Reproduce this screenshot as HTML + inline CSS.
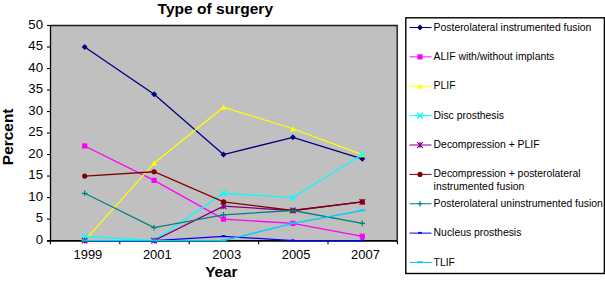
<!DOCTYPE html><html><head><meta charset="utf-8"><style>html,body{margin:0;padding:0;background:#fff;}svg{display:block;}text{font-family:"Liberation Sans",sans-serif;}</style></head><body>
<svg width="605" height="281" viewBox="0 0 605 281">
<rect width="605" height="281" fill="#fff"/>
<text transform="translate(215.3,14.1) scale(1.045,1)" font-size="14.9" font-weight="bold" text-anchor="middle" fill="#000">Type of surgery</text>
<rect x="50" y="25.5" width="347" height="215.1" fill="#C0C0C0"/>
<path d="M50 25.5H397.2V240.6" stroke="#1a1a1a" stroke-width="1.4" fill="none"/>
<path d="M50.5 25.0V242.1" stroke="#000" stroke-width="1.3" fill="none"/>
<path d="M47 240.90H50.5" stroke="#000" stroke-width="1.1"/>
<text transform="translate(43.0,244.00) scale(1.1,1)" font-size="12" text-anchor="end" fill="#000">0</text>
<path d="M47 219.09H50.5" stroke="#000" stroke-width="1.1"/>
<text transform="translate(43.0,222.49) scale(1.1,1)" font-size="12" text-anchor="end" fill="#000">5</text>
<path d="M47 197.58H50.5" stroke="#000" stroke-width="1.1"/>
<text transform="translate(43.0,200.98) scale(1.1,1)" font-size="12" text-anchor="end" fill="#000">10</text>
<path d="M47 176.07H50.5" stroke="#000" stroke-width="1.1"/>
<text transform="translate(43.0,179.47) scale(1.1,1)" font-size="12" text-anchor="end" fill="#000">15</text>
<path d="M47 154.56H50.5" stroke="#000" stroke-width="1.1"/>
<text transform="translate(43.0,157.96) scale(1.1,1)" font-size="12" text-anchor="end" fill="#000">20</text>
<path d="M47 133.05H50.5" stroke="#000" stroke-width="1.1"/>
<text transform="translate(43.0,136.45) scale(1.1,1)" font-size="12" text-anchor="end" fill="#000">25</text>
<path d="M47 111.54H50.5" stroke="#000" stroke-width="1.1"/>
<text transform="translate(43.0,114.94) scale(1.1,1)" font-size="12" text-anchor="end" fill="#000">30</text>
<path d="M47 90.03H50.5" stroke="#000" stroke-width="1.1"/>
<text transform="translate(43.0,93.43) scale(1.1,1)" font-size="12" text-anchor="end" fill="#000">35</text>
<path d="M47 68.52H50.5" stroke="#000" stroke-width="1.1"/>
<text transform="translate(43.0,71.92) scale(1.1,1)" font-size="12" text-anchor="end" fill="#000">40</text>
<path d="M47 47.01H50.5" stroke="#000" stroke-width="1.1"/>
<text transform="translate(43.0,50.41) scale(1.1,1)" font-size="12" text-anchor="end" fill="#000">45</text>
<path d="M47 25.50H50.5" stroke="#000" stroke-width="1.1"/>
<text transform="translate(43.0,28.90) scale(1.1,1)" font-size="12" text-anchor="end" fill="#000">50</text>
<path d="M47 240.9H397.6" stroke="#000" stroke-width="1.6" fill="none"/>
<path d="M50.40 240.9V244.2" stroke="#000" stroke-width="1.1"/>
<path d="M119.80 240.9V244.2" stroke="#000" stroke-width="1.1"/>
<path d="M189.20 240.9V244.2" stroke="#000" stroke-width="1.1"/>
<path d="M258.60 240.9V244.2" stroke="#000" stroke-width="1.1"/>
<path d="M328.00 240.9V244.2" stroke="#000" stroke-width="1.1"/>
<path d="M397.40 240.9V244.2" stroke="#000" stroke-width="1.1"/>
<text transform="translate(87.90,258.7) scale(1.08,1)" font-size="12" text-anchor="middle" fill="#000">1999</text>
<text transform="translate(157.30,258.7) scale(1.08,1)" font-size="12" text-anchor="middle" fill="#000">2001</text>
<text transform="translate(226.70,258.7) scale(1.08,1)" font-size="12" text-anchor="middle" fill="#000">2003</text>
<text transform="translate(296.10,258.7) scale(1.08,1)" font-size="12" text-anchor="middle" fill="#000">2005</text>
<text transform="translate(365.50,258.7) scale(1.08,1)" font-size="12" text-anchor="middle" fill="#000">2007</text>
<text transform="translate(221.3,276.8) scale(1.02,1)" font-size="15" font-weight="bold" text-anchor="middle" fill="#000">Year</text>
<text transform="translate(13.2,136.8) rotate(-90) scale(1.03,1)" font-size="15" font-weight="bold" text-anchor="middle" fill="#000">Percent</text>
<polyline points="84.70,47.01 154.10,94.33 223.50,154.56 292.90,137.35 362.30,158.86" stroke="#000080" stroke-width="1.3" fill="none"/>
<path d="M84.70 44.01L87.70 47.01L84.70 50.01L81.70 47.01Z" fill="#000080"/>
<path d="M154.10 91.33L157.10 94.33L154.10 97.33L151.10 94.33Z" fill="#000080"/>
<path d="M223.50 151.56L226.50 154.56L223.50 157.56L220.50 154.56Z" fill="#000080"/>
<path d="M292.90 134.35L295.90 137.35L292.90 140.35L289.90 137.35Z" fill="#000080"/>
<path d="M362.30 155.86L365.30 158.86L362.30 161.86L359.30 158.86Z" fill="#000080"/>
<polyline points="84.70,145.96 154.10,180.37 223.50,219.09 292.90,223.39 362.30,236.30" stroke="#FF00FF" stroke-width="1.3" fill="none"/>
<rect x="82.10" y="143.36" width="5.20" height="5.20" fill="#FF00FF"/>
<rect x="151.50" y="177.77" width="5.20" height="5.20" fill="#FF00FF"/>
<rect x="220.90" y="216.49" width="5.20" height="5.20" fill="#FF00FF"/>
<rect x="290.30" y="220.79" width="5.20" height="5.20" fill="#FF00FF"/>
<rect x="359.70" y="233.70" width="5.20" height="5.20" fill="#FF00FF"/>
<polyline points="84.70,240.60 154.10,163.16 223.50,107.24 292.90,128.75 362.30,154.56" stroke="#FFFF00" stroke-width="1.3" fill="none"/>
<path d="M84.70 237.80L87.50 243.20L81.90 243.20Z" fill="#FFFF00"/>
<path d="M154.10 160.36L156.90 165.76L151.30 165.76Z" fill="#FFFF00"/>
<path d="M223.50 104.44L226.30 109.84L220.70 109.84Z" fill="#FFFF00"/>
<path d="M292.90 125.95L295.70 131.35L290.10 131.35Z" fill="#FFFF00"/>
<path d="M362.30 151.76L365.10 157.16L359.50 157.16Z" fill="#FFFF00"/>
<polyline points="84.70,236.30 154.10,240.60 223.50,193.28 292.90,197.58 362.30,154.56" stroke="#00FFFF" stroke-width="1.3" fill="none"/>
<path d="M81.90 233.50L87.50 239.10M87.50 233.50L81.90 239.10" stroke="#00FFFF" stroke-width="1.3" fill="none"/>
<path d="M151.30 237.80L156.90 243.40M156.90 237.80L151.30 243.40" stroke="#00FFFF" stroke-width="1.3" fill="none"/>
<path d="M220.70 190.48L226.30 196.08M226.30 190.48L220.70 196.08" stroke="#00FFFF" stroke-width="1.3" fill="none"/>
<path d="M290.10 194.78L295.70 200.38M295.70 194.78L290.10 200.38" stroke="#00FFFF" stroke-width="1.3" fill="none"/>
<path d="M359.50 151.76L365.10 157.36M365.10 151.76L359.50 157.36" stroke="#00FFFF" stroke-width="1.3" fill="none"/>
<polyline points="84.70,240.60 154.10,240.60 223.50,206.18 292.90,210.49 362.30,201.88" stroke="#800080" stroke-width="1.3" fill="none"/>
<path d="M81.90 237.80L87.50 243.40M87.50 237.80L81.90 243.40M84.70 237.80L84.70 243.40" stroke="#800080" stroke-width="1.2" fill="none"/>
<path d="M151.30 237.80L156.90 243.40M156.90 237.80L151.30 243.40M154.10 237.80L154.10 243.40" stroke="#800080" stroke-width="1.2" fill="none"/>
<path d="M220.70 203.38L226.30 208.98M226.30 203.38L220.70 208.98M223.50 203.38L223.50 208.98" stroke="#800080" stroke-width="1.2" fill="none"/>
<path d="M290.10 207.69L295.70 213.29M295.70 207.69L290.10 213.29M292.90 207.69L292.90 213.29" stroke="#800080" stroke-width="1.2" fill="none"/>
<path d="M359.50 199.08L365.10 204.68M365.10 199.08L359.50 204.68M362.30 199.08L362.30 204.68" stroke="#800080" stroke-width="1.2" fill="none"/>
<polyline points="84.70,176.07 154.10,171.77 223.50,201.88 292.90,210.49 362.30,201.88" stroke="#800000" stroke-width="1.3" fill="none"/>
<circle cx="84.70" cy="176.07" r="2.6" fill="#800000"/>
<circle cx="154.10" cy="171.77" r="2.6" fill="#800000"/>
<circle cx="223.50" cy="201.88" r="2.6" fill="#800000"/>
<circle cx="292.90" cy="210.49" r="2.6" fill="#800000"/>
<circle cx="362.30" cy="201.88" r="2.6" fill="#800000"/>
<polyline points="84.70,193.28 154.10,227.69 223.50,214.79 292.90,210.49 362.30,223.39" stroke="#008080" stroke-width="1.3" fill="none"/>
<path d="M81.90 193.28L87.50 193.28M84.70 190.48L84.70 196.08" stroke="#008080" stroke-width="1.2" fill="none"/>
<path d="M151.30 227.69L156.90 227.69M154.10 224.89L154.10 230.49" stroke="#008080" stroke-width="1.2" fill="none"/>
<path d="M220.70 214.79L226.30 214.79M223.50 211.99L223.50 217.59" stroke="#008080" stroke-width="1.2" fill="none"/>
<path d="M290.10 210.49L295.70 210.49M292.90 207.69L292.90 213.29" stroke="#008080" stroke-width="1.2" fill="none"/>
<path d="M359.50 223.39L365.10 223.39M362.30 220.59L362.30 226.19" stroke="#008080" stroke-width="1.2" fill="none"/>
<polyline points="84.70,240.60 154.10,240.60 223.50,236.30 292.90,240.60 362.30,240.60" stroke="#0000FF" stroke-width="1.3" fill="none"/>
<rect x="82.90" y="239.40" width="3.6" height="1.8" fill="#0000FF"/>
<rect x="152.30" y="239.40" width="3.6" height="1.8" fill="#0000FF"/>
<rect x="221.70" y="235.10" width="3.6" height="1.8" fill="#0000FF"/>
<rect x="291.10" y="239.40" width="3.6" height="1.8" fill="#0000FF"/>
<rect x="360.50" y="239.40" width="3.6" height="1.8" fill="#0000FF"/>
<polyline points="84.70,240.60 154.10,240.60 223.50,240.60 292.90,223.39 362.30,210.49" stroke="#00CCFF" stroke-width="1.3" fill="none"/>
<rect x="81.70" y="239.40" width="6" height="1.8" fill="#00CCFF"/>
<rect x="151.10" y="239.40" width="6" height="1.8" fill="#00CCFF"/>
<rect x="220.50" y="239.40" width="6" height="1.8" fill="#00CCFF"/>
<rect x="289.90" y="222.19" width="6" height="1.8" fill="#00CCFF"/>
<rect x="359.30" y="209.29" width="6" height="1.8" fill="#00CCFF"/>
<rect x="405.8" y="17.8" width="198.59999999999997" height="255.7" fill="#fff" stroke="#000" stroke-width="1.4"/>
<path d="M409.5 27.50H431.5" stroke="#000080" stroke-width="1.0"/>
<path d="M420.00 24.50L423.00 27.50L420.00 30.50L417.00 27.50Z" fill="#000080"/>
<text x="433.6" y="30.50" font-size="10.4" fill="#000">Posterolateral instrumented fusion</text>
<path d="M409.5 56.88H431.5" stroke="#FF00FF" stroke-width="1.0"/>
<rect x="417.40" y="54.27" width="5.20" height="5.20" fill="#FF00FF"/>
<text x="433.6" y="59.88" font-size="10.4" fill="#000">ALIF with/without implants</text>
<path d="M409.5 86.25H431.5" stroke="#FFFF00" stroke-width="1.0"/>
<path d="M420.00 83.45L422.80 88.85L417.20 88.85Z" fill="#FFFF00"/>
<text x="433.6" y="89.25" font-size="10.4" fill="#000">PLIF</text>
<path d="M409.5 115.62H431.5" stroke="#00FFFF" stroke-width="1.0"/>
<path d="M417.20 112.83L422.80 118.42M422.80 112.83L417.20 118.42" stroke="#00FFFF" stroke-width="1.3" fill="none"/>
<text x="433.6" y="118.62" font-size="10.4" fill="#000">Disc prosthesis</text>
<path d="M409.5 145.00H431.5" stroke="#800080" stroke-width="1.0"/>
<path d="M417.20 142.20L422.80 147.80M422.80 142.20L417.20 147.80M420.00 142.20L420.00 147.80" stroke="#800080" stroke-width="1.2" fill="none"/>
<text x="433.6" y="148.00" font-size="10.4" fill="#000">Decompression + PLIF</text>
<path d="M409.5 174.38H431.5" stroke="#800000" stroke-width="1.0"/>
<circle cx="420.00" cy="174.38" r="2.6" fill="#800000"/>
<text x="433.6" y="177.38" font-size="10.4" fill="#000">Decompression + posterolateral</text>
<text x="433.6" y="189.88" font-size="10.4" fill="#000">instrumented fusion</text>
<path d="M409.5 203.75H431.5" stroke="#008080" stroke-width="1.0"/>
<path d="M417.20 203.75L422.80 203.75M420.00 200.95L420.00 206.55" stroke="#008080" stroke-width="1.2" fill="none"/>
<text x="433.6" y="206.75" font-size="10.4" fill="#000">Posterolateral uninstrumented fusion</text>
<path d="M409.5 233.12H431.5" stroke="#0000FF" stroke-width="1.0"/>
<rect x="418.20" y="231.93" width="3.6" height="1.8" fill="#0000FF"/>
<text x="433.6" y="236.12" font-size="10.4" fill="#000">Nucleus prosthesis</text>
<path d="M409.5 262.50H431.5" stroke="#00CCFF" stroke-width="1.0"/>
<rect x="417.00" y="261.30" width="6" height="1.8" fill="#00CCFF"/>
<text x="433.6" y="265.50" font-size="10.4" fill="#000">TLIF</text>
</svg></body></html>
